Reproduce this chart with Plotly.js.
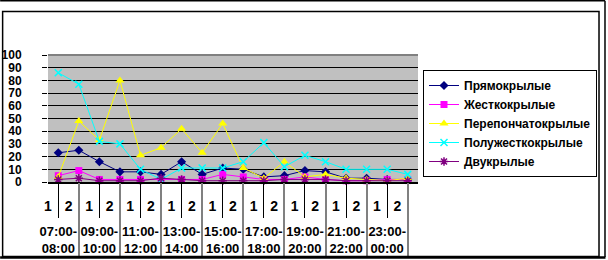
<!DOCTYPE html>
<html>
<head>
<meta charset="utf-8">
<script src="https://cdn.plot.ly/plotly-3.0.1.min.js"></script>
<style>html,body{margin:0;padding:0;background:#fff;}#chart{width:608px;height:260px;}</style>
</head>
<body>
<div id="chart"></div>
<script>
// ---- data ----
var timeGroups = ['07:00-<br>08:00','09:00-<br>10:00','11:00-<br>12:00','13:00-<br>14:00','15:00-<br>16:00','17:00-<br>18:00','19:00-<br>20:00','21:00-<br>22:00','23:00-<br>00:00'];
var subLabels = ['1','2'];
var seriesNames = ['Прямокрылые','Жесткокрылые','Перепончатокрылые','Полужесткокрылые','Двукрылые'];
var pryamokrylye     = [23,25,16,8,8,6,16,6,11,10,4,5,9,8,3,3,2,2];
var zhestkokrylye    = [5,9,2,2,2,2,2,2,6,4,2,2,4,2,1,1,2,2];
var pereponchatokr   = [4,48,33,80,21,27,42,23,46,11,3,16,4,6,3,2,1,3];
var poluzhestkokr    = [86,77,32,30,10,2,11,11,11,16,31,12,21,16,10,10,10,6];
var dvukrylye        = [2,3,1,1,1,3,2,1,1,1,1,2,2,2,1,1,1,1];
var yTicks = [0,10,20,30,40,50,60,70,80,90,100];

// build category coordinates
var xGroup = [], xSub = [];
timeGroups.forEach(function(g){ subLabels.forEach(function(s){ xGroup.push(g); xSub.push(s); }); });
var xCat = [xGroup, xSub];
var nCat = xSub.length, nSub = subLabels.length;
var subPos = xSub.map(function(_, i){ return i; });
var groupPos = timeGroups.map(function(_, g){ return g*nSub + (nSub-1)/2; });
var subBounds = [], groupBounds = [];
timeGroups.forEach(function(_, g){
  for (var k=1; k<nSub; k++) subBounds.push(g*nSub + k - 0.5);
  groupBounds.push(g*nSub + nSub - 0.5);
});

var FONT = 'Liberation Sans, Arial, sans-serif';
function line(name, y, color, symbol, msize, open){
  var m = {symbol: symbol, size: msize, color: color};
  if (open) m.line = {color: color, width: 1.5};
  return {type:'scatter', mode:'lines+markers', name:name, x:xCat, y:y,
          line:{color:color, width:1}, marker:m, cliponaxis:false};
}
function axisHolder(xa, pos){
  return {type:'scatter', mode:'markers', x:pos, y:pos.map(function(){return null;}),
          xaxis:xa, yaxis:'y', showlegend:false, hoverinfo:'skip', marker:{opacity:0}};
}
var traces = [
  line(seriesNames[0], pryamokrylye, '#000080', 'diamond', 7),
  line(seriesNames[1], zhestkokrylye, '#FF00FF', 'square', 7),
  line(seriesNames[2], pereponchatokr, '#FFFF00', 'triangle-up', 8),
  line(seriesNames[3], poluzhestkokr, '#00FFFF', 'x-thin-open', 7, true),
  line(seriesNames[4], dvukrylye, '#800080', 'asterisk-open', 7, true),
  axisHolder('x2', subPos),
  axisHolder('x3', groupPos),
  axisHolder('x4', subBounds),
  axisHolder('x5', groupBounds)
];

// pixel helpers for frame shapes (plot area: 48..419 x 55..182)
var L=48, R=419, T=55, B=182;
function PX(p){ return (p-L)/(R-L); }
function PY(p){ return (B-p)/(B-T); }

// label axes are shifted half a category to the left (as in the original)
var labelRange = [0, nCat];
function labelAxis(extra){
  var a = {type:'linear', overlaying:'x', anchor:'y', side:'bottom', range:labelRange,
           showgrid:false, zeroline:false, showline:false, tickmode:'array', fixedrange:true};
  for (var k in extra) a[k] = extra[k];
  return a;
}

var layout = {
  width:608, height:260,
  margin:{l:L, r:608-R, t:T, b:260-B, pad:0},
  paper_bgcolor:'#ffffff', plot_bgcolor:'#C0C0C0',
  showlegend:true,
  font:{family:FONT, color:'#000', size:13, weight:'bold'},
  xaxis:{type:'multicategory', range:[-0.5,nCat-0.5], showticklabels:false, ticks:'',
         showgrid:false, zeroline:false, showline:true, linecolor:'#000', linewidth:2,
         showdividers:false, fixedrange:true},
  xaxis2:labelAxis({tickvals:subPos, ticktext:xSub, ticks:'', ticklabelstandoff:14,
          tickfont:{family:FONT, size:14, color:'#000', weight:'bold'}}),
  xaxis3:labelAxis({tickvals:groupPos, ticktext:timeGroups, ticks:'', ticklabelstandoff:40,
          tickfont:{family:FONT, size:13, color:'#000', weight:'bold'}}),
  xaxis4:labelAxis({tickvals:subBounds, showticklabels:false, ticks:'outside', ticklen:35,
          tickcolor:'#000', tickwidth:1}),
  xaxis5:labelAxis({tickvals:groupBounds, showticklabels:false, ticks:'outside', ticklen:75,
          tickcolor:'#808080', tickwidth:2}),
  yaxis:{range:[0,100], tickvals:yTicks, ticktext:yTicks.map(String),
         showgrid:true, gridcolor:'#000', gridwidth:1, zeroline:false, showline:false,
         ticks:'outside', ticklen:5, tickcolor:'#000', ticklabelstandoff:18,
         tickfont:{family:FONT, size:12, color:'#000', weight:'bold'}, fixedrange:true},
  legend:{x:PX(423), y:PY(70), xanchor:'left', yanchor:'top',
          bgcolor:'#fff', bordercolor:'#000', borderwidth:1,
          font:{family:FONT, size:12, color:'#000', weight:'bold'},
          tracegroupgap:0, itemwidth:30},
  shapes:[
    {type:'line', xref:'paper', yref:'paper', x0:0, x1:1, y0:1, y1:1, line:{color:'#808080', width:2}},
    {type:'rect', xref:'paper', yref:'paper', x0:PX(2.5), x1:PX(600.5), y0:PY(256.5), y1:PY(11.5), line:{color:'#000', width:1.5}},
    {type:'line', xref:'paper', yref:'paper', x0:PX(0), x1:PX(606.5), y0:PY(0.8), y1:PY(0.8), line:{color:'#000', width:1.5}},
    {type:'line', xref:'paper', yref:'paper', x0:PX(606.5), x1:PX(606.5), y0:PY(0.8), y1:PY(257), line:{color:'#000', width:1.5}},
    {type:'line', xref:'paper', yref:'paper', x0:PX(0), x1:PX(607), y0:PY(257.5), y1:PY(257.5), line:{color:'#000', width:2.5}}
  ]
};
Plotly.newPlot('chart', traces, layout, {staticPlot:true, displayModeBar:false});
</script>
</body>
</html>
